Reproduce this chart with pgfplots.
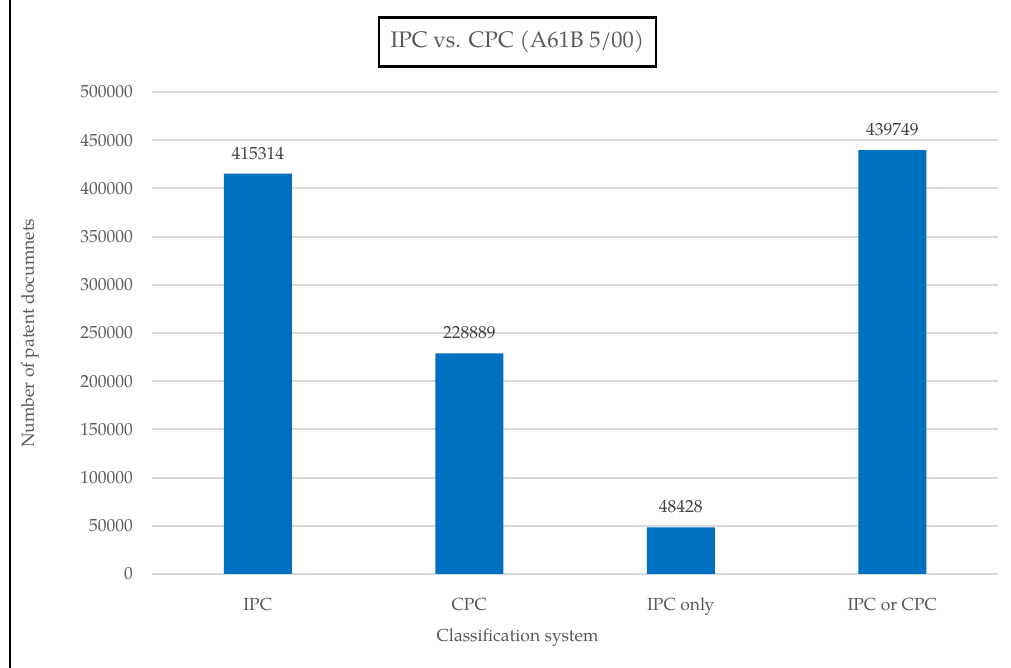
\documentclass[border=0pt]{standalone}
\usepackage{fontspec}
\setmainfont{TeX Gyre Pagella}
\usepackage{pgfplots}
\pgfplotsset{compat=1.18}
\definecolor{barblue}{RGB}{0,112,192}
\definecolor{txtgray}{RGB}{89,89,89}
\definecolor{lblgray}{RGB}{64,64,64}
\definecolor{gridgray}{RGB}{217,217,217}
\begin{document}
\begin{tikzpicture}
% canvas: 1 px = 0.6pt
\useasboundingbox (0,0) rectangle (606.6pt,400.8pt);
\fill[white] (0,0) rectangle (606.6pt,400.8pt);
\draw[black, line width=1.4pt] (6pt,0) -- (6pt,400.8pt);
\begin{axis}[
  at={(91.2pt,56.4pt)}, anchor=south west,
  scale only axis, width=507.6pt, height=289.2pt,
  xmin=-0.5, xmax=3.5, ymin=0, ymax=500000,
  axis line style={draw=none},
  xtick={0,1,2,3},
  xticklabels={IPC, CPC, IPC only, IPC or CPC},
  ytick={0,50000,...,500000},
  scaled y ticks=false,
  /pgf/number format/.cd, fixed, set thousands separator={}, assume math mode=true,
  /pgfplots/.cd,
  ymajorgrids, grid style={gridgray, line width=1.2pt},
  major tick length=0pt,
  tick label style={txtgray, font=\fontsize{10.5}{12}\selectfont},
  yticklabel style={xshift=-8pt},
  xticklabel style={yshift=-11pt},
  title={IPC vs. CPC (A61B 5/00)},
  title style={draw=black, text=txtgray, line width=1.4pt, font=\fontsize{13.5}{15}\selectfont, inner xsep=7pt, inner ysep=8pt, at={(0.432,1.0)}, anchor=center, yshift=24pt},
  xlabel={Classification system},
  ylabel={Number of patent documnets},
  label style={txtgray, font=\fontsize{10.5}{12}\selectfont},
  xlabel style={at={(0.432,0)}, anchor=center, yshift=-38.4pt},
  ylabel style={at={(-0.1442,0.5)}, anchor=center},
  nodes near coords,
  nodes near coords style={lblgray, font=\fontsize{10.5}{12}\selectfont, yshift=5pt},
  point meta=y,
]
\addplot[ybar, bar width=40.8pt, fill=barblue, draw=none] coordinates {
  (0,415314) (1,228889) (2,48428) (3,439749)
};
\end{axis}
\end{tikzpicture}
\end{document}
